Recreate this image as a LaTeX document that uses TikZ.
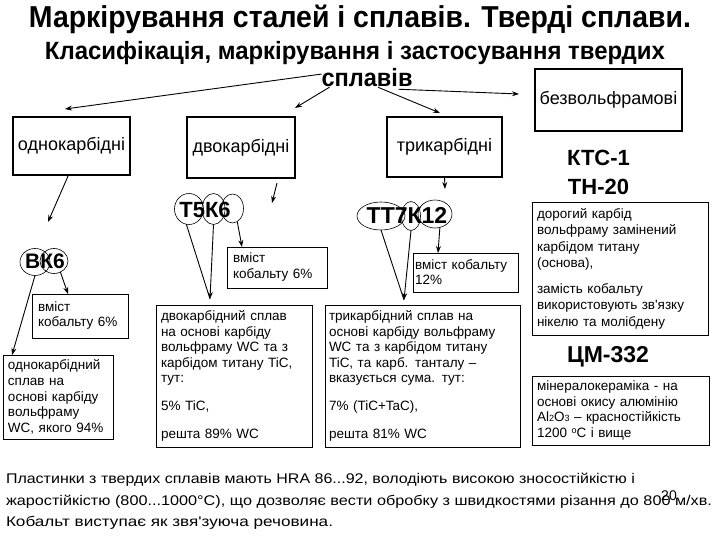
\documentclass[tikz,border=0pt]{standalone}
\usepackage{fontspec}
\setmainfont{Liberation Sans}
\usetikzlibrary{arrows.meta,shapes.geometric}
\newcommand\fitto[2]{\resizebox{#1}{\height}{#2}}
\begin{document}
\begin{tikzpicture}[x=1pt,y=-1pt,
  every node/.style={inner sep=0pt, outer sep=0pt},
  bigbox/.style={draw, line width=1.5pt, align=center, font=\fontsize{18}{20}\selectfont},
  smallbox/.style={draw, line width=0.8pt, align=left, inner xsep=6pt, font=\fontsize{13.5}{15.5}\selectfont},
  ring/.style={draw, ellipse, line width=0.6pt},
  gradelbl/.style={font=\bfseries\fontsize{22}{22}\selectfont},
  arr/.style={-{Stealth[length=7pt,width=5pt]}, line width=0.9pt},
  plain/.style={line width=0.9pt},
  body/.style={anchor=west, font=\fontsize{14}{16}\selectfont}
]
\useasboundingbox (0,0) rectangle (720,540);

% headings
\node[anchor=base, font=\bfseries\fontsize{28}{28}\selectfont] (title) at (360,28) {\resizebox{662pt}{1.08\height}{Маркірування сталей і сплавів. Тверді сплави.}};
\node[anchor=base, font=\bfseries\fontsize{25}{25}\selectfont] (sub) at (355,60) {\fitto{620pt}{Класифікація, маркірування і застосування твердих}};
\node[anchor=base, font=\bfseries\fontsize{25}{25}\selectfont] (spl) at (367,87) {\fitto{91pt}{сплавів}};

% class boxes
\node[bigbox, minimum width=117pt, minimum height=58pt] (b1) at (71.5,146) {однокарбідні};
\node[bigbox, minimum width=108pt, minimum height=61pt] (b2) at (241,147.5) {двокарбідні};
\node[bigbox, minimum width=115pt, minimum height=60pt] (b3) at (444.5,147) {трикарбідні};
\node[bigbox, minimum width=147pt, minimum height=62pt] (bz) at (608.5,100) {безвольфрамові};

% arrows from the heading
\draw[arr] ([yshift=4pt]spl.west) -- (65,109);
\draw[arr] ([xshift=8pt]spl.south west) -- (295,108);
\draw[arr] ([xshift=11pt]spl.south) -- (440,113);
\draw[arr] ([xshift=-14pt,yshift=-2pt]spl.south east) -- (519,94);

% ВК6
\node[gradelbl, font=\bfseries\fontsize{21}{21}\selectfont] (vk) at (45,261) {ВК6};
\node[ring, minimum width=30pt, minimum height=27pt] (vkA) at (35,262) {};
\node[ring, minimum width=28pt, minimum height=25pt] (vkB) at (54,261) {};
\node[smallbox, minimum width=96pt, minimum height=44pt, text width=84pt, font=\fontsize{13.5}{15}\selectfont] (bv1) at (80,316) {вміст\\кобальту 6\%};
\node[smallbox, minimum width=110pt, minimum height=84pt, text width=100pt, inner xsep=5pt, font=\fontsize{13.5}{15.8}\selectfont] (bo) at (58,397) {однокарбідний\\сплав на\\основі карбіду\\вольфраму\\WC, якого 94\%};
\draw[arr] ([xshift=-3pt]b1.south) -- (48,222);
\draw[arr] (vkA.south) -- ([xshift=-46pt]bo.north);
\draw[arr] (vkB.300) -- ([xshift=-12pt]bv1.north);

% Т5К6
\node[gradelbl] (t5) at (205,210) {Т5К6};
\node[ring, minimum width=29pt, minimum height=31pt] (t5A) at (189,209) {};
\node[ring, minimum width=23pt, minimum height=31pt] (t5B) at (213.5,209) {};
\node[ring, minimum width=22pt, minimum height=29pt] (t5C) at (232.5,208.5) {};
\node[smallbox, minimum width=100pt, minimum height=41pt, text width=88pt, font=\fontsize{13.5}{16}\selectfont] (bt5) at (277,267.5) {вміст\\кобальту 6\%};
\node[smallbox, minimum width=156pt, minimum height=142pt, text width=146pt, inner xsep=5pt] (bd2) at (234,376) {двокарбідний сплав\\на основі карбіду\\вольфраму WC та з\\карбідом титану TiC,\\тут:\\[12.5pt]5\% TiC,\\[12.5pt]решта 89\% WC};
\coordinate (t5tip) at (210,299);
\draw[arr] ([shift={(36pt,-5pt)}]b2.south) -- (272,203);
\draw[plain] (t5A.260) -- (t5tip);
\draw[arr] (t5B.south) -- (t5tip);
\draw[arr] (t5C.290) -- ([xshift=-35pt]bt5.north);

% ТТ7К12
\node[gradelbl, font=\bfseries\fontsize{23}{23}\selectfont] (tt) at (407,215) {ТТ7К12};
\node[ring, minimum width=48pt, minimum height=28pt] (ttA) at (381,216) {};
\node[ring, minimum width=19pt, minimum height=29pt] (ttB) at (411,216) {};
\node[ring, minimum width=34pt, minimum height=28pt] (ttC) at (435,214) {};
\node[smallbox, minimum width=105pt, minimum height=39pt, text width=101pt, inner xsep=2pt, font=\fontsize{13.5}{15}\selectfont] (bt12) at (465.5,272.5) {вміст кобальту\\12\%};
\node[smallbox, minimum width=195pt, minimum height=142pt, text width=187pt, inner xsep=4pt] (bd3) at (422.5,376) {трикарбідний сплав на\\основі карбіду вольфраму\\WC та з карбідом титану\\TiC, та карб. танталу –\\вказується сума. тут:\\[12.5pt]7\% (TiC+TaC),\\[12.5pt]решта 81\% WC};
\coordinate (tttip) at (404,300);
\draw[arr] (b3.south) -- (445,189);
\draw[plain] (ttA.south) -- (tttip);
\draw[arr] (ttB.south) -- (tttip);
\draw[arr] (ttC.290) -- ([xshift=-27.5pt]bt12.north);

% безвольфрамові
\node[font=\bfseries\fontsize{22}{22}\selectfont] (ktc) at (598.5,157.5) {КТС-1};
\node[font=\bfseries\fontsize{22}{22}\selectfont] (tn) at (598.5,186.5) {ТН-20};
\node[smallbox, minimum width=176pt, minimum height=133pt, text width=166pt, inner xsep=5pt, font=\fontsize{13.5}{16.5}\selectfont] (bd) at (620,268.5) {дорогий карбід\\вольфраму замінений\\карбідом титану\\(основа),\\[9pt]замість кобальту\\використовують зв\textquotesingle язку\\нікелю та молібдену};
\node[font=\bfseries\fontsize{23}{23}\selectfont] (zm) at (608,357) {ЦМ-332};
\node[smallbox, minimum width=177pt, minimum height=69pt, text width=167pt, inner xsep=5pt, font=\fontsize{13.5}{15.5}\selectfont] (bm) at (620.5,410.5) {мінералокераміка - на\\основі окису алюмінію\\Al{\fontsize{9}{9}\selectfont 2}O{\fontsize{9}{9}\selectfont 3} – красностійкість\\1200 \raisebox{4pt}{\fontsize{9}{9}\selectfont o}C і вище};

% bottom text
\node[body] (l1) at (6,480) {\fitto{629pt}{Пластинки з твердих сплавів мають HRA 86...92, володіють високою зносостійкістю і}};
\node[body] (l2) at (6,502) {\fitto{706pt}{жаростійкістю (800...1000°C), що дозволяє вести обробку з швидкостями різання до 800 м/хв.}};
\node[body] (l3) at (6,523) {\fitto{327pt}{Кобальт виступає як звя\textquotesingle зуюча речовина.}};
\node[font=\fontsize{14}{14}\selectfont] (pg) at (669,496) {20};
\end{tikzpicture}
\end{document}
